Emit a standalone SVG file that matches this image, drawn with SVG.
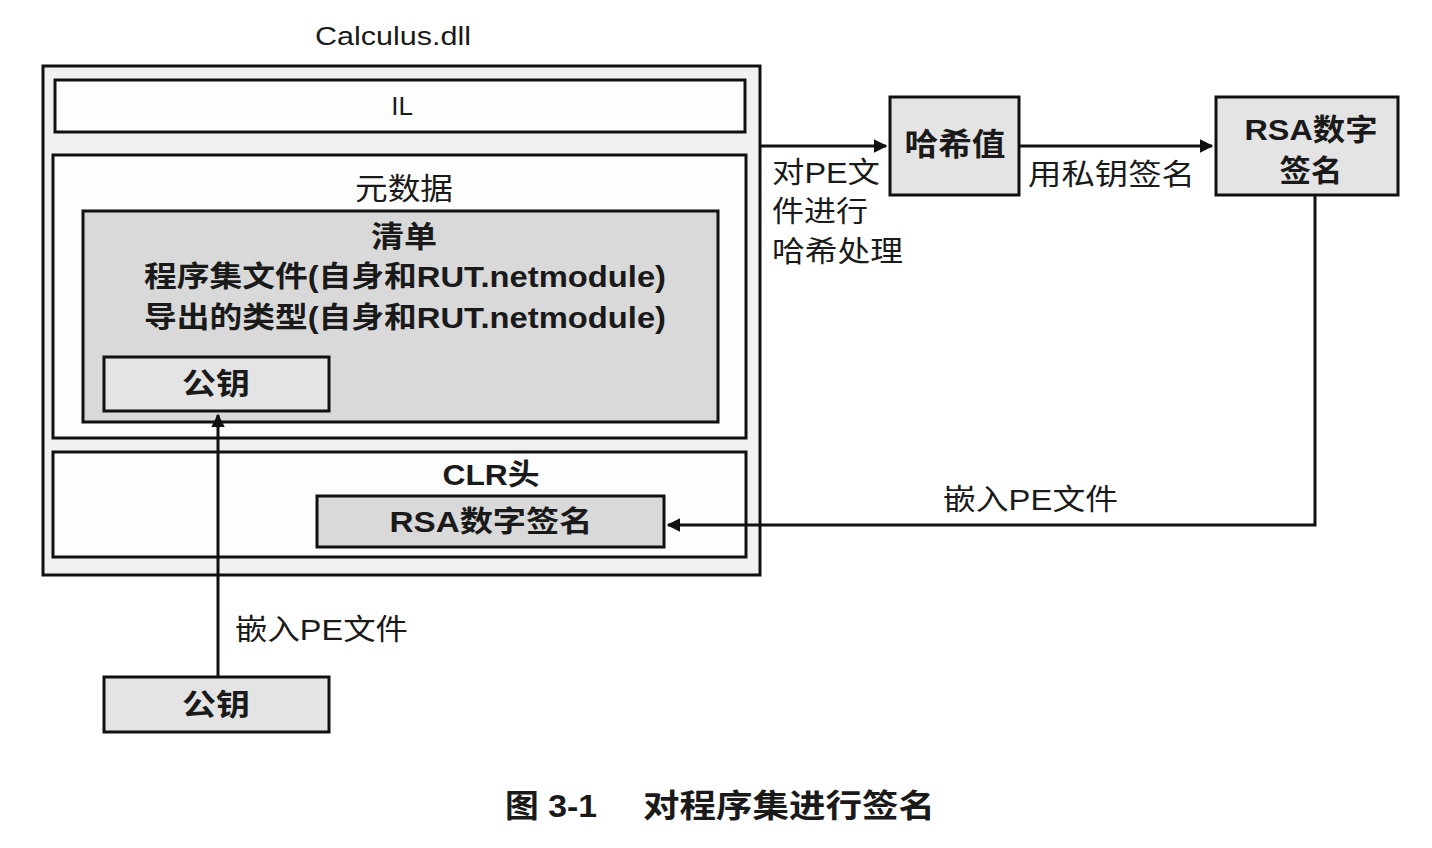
<svg xmlns="http://www.w3.org/2000/svg" width="1432" height="848" viewBox="0 0 1432 848">
<style>
text{font-family:"Liberation Sans","Noto Sans CJK SC",sans-serif;fill:#1a1a1a;}
.box{stroke:#111;stroke-width:3;}
.w{fill:#fdfdfd;}
.g{fill:#e4e4e4;}
.dg{fill:#d9d9d9;}
.c{text-anchor:middle;}
.b{font-weight:bold;}
.conn{fill:none;stroke:#111;stroke-width:3;}
</style>
<defs>
<marker id="ah" viewBox="0 0 10 10" refX="9" refY="5" markerWidth="4.5" markerHeight="4.5" orient="auto">
<path d="M0,0 L10,5 L0,10 z" fill="#111"/>
</marker>
</defs>
<rect width="1432" height="848" fill="#fff"/>
<text x="393" y="45" class="c" font-size="26" textLength="156" lengthAdjust="spacingAndGlyphs">Calculus.dll</text>
<g id="calculus">
<rect x="43" y="66" width="717" height="509" class="box" fill="#f1f1f1"/>
</g>
<g id="il">
<rect x="55" y="80" width="690" height="52" class="box w"/>
<text x="402" y="115" class="c" font-size="26">IL</text>
</g>
<g id="metadata">
<rect x="53" y="155" width="693" height="283" class="box w"/>
<text x="404" y="199" class="c" font-size="30" textLength="98" lengthAdjust="spacingAndGlyphs">元数据</text>
</g>
<g id="manifest">
<rect x="83" y="211" width="635" height="211" class="box dg"/>
<text x="404" y="247" class="c b" font-size="30" textLength="66" lengthAdjust="spacingAndGlyphs">清单</text>
<text x="405" y="287" class="c b" font-size="29" textLength="522" lengthAdjust="spacingAndGlyphs">程序集文件(自身和RUT.netmodule)</text>
<text x="405" y="328" class="c b" font-size="29" textLength="522" lengthAdjust="spacingAndGlyphs">导出的类型(自身和RUT.netmodule)</text>
</g>
<g id="pubkey-inner">
<rect x="104" y="357" width="225" height="54" class="box g"/>
<text x="216" y="394" class="c b" font-size="30" textLength="68" lengthAdjust="spacingAndGlyphs">公钥</text>
</g>
<g id="clr">
<rect x="53" y="452" width="693" height="105" class="box w"/>
<text x="491" y="485" class="c b" font-size="29" textLength="97" lengthAdjust="spacingAndGlyphs">CLR头</text>
</g>
<g id="rsa-inner">
<rect x="317" y="496" width="347" height="51" class="box dg"/>
<text x="491" y="532" class="c b" font-size="29" textLength="203" lengthAdjust="spacingAndGlyphs">RSA数字签名</text>
</g>
<g id="pubkey">
<rect x="104" y="677" width="225" height="55" class="box g"/>
<text x="216" y="715" class="c b" font-size="30" textLength="68" lengthAdjust="spacingAndGlyphs">公钥</text>
</g>
<g id="hash">
<rect x="890" y="97" width="129" height="98" class="box g"/>
<text x="955" y="155" class="c b" font-size="31" textLength="101" lengthAdjust="spacingAndGlyphs">哈希值</text>
</g>
<g id="rsa">
<rect x="1216" y="97" width="182" height="98" class="box g"/>
<text x="1311" y="140" class="c b" font-size="30" textLength="133" lengthAdjust="spacingAndGlyphs">RSA数字</text>
<text x="1311" y="181" class="c b" font-size="30" textLength="63" lengthAdjust="spacingAndGlyphs">签名</text>
</g>
<g id="connectors">
<line x1="760" y1="146" x2="886" y2="146" class="conn" marker-end="url(#ah)"/>
<line x1="1019" y1="146" x2="1212" y2="146" class="conn" marker-end="url(#ah)"/>
<polyline points="1315,195 1315,525 668,525" class="conn" marker-end="url(#ah)"/>
<line x1="218" y1="677" x2="218" y2="415" class="conn" marker-end="url(#ah)"/>
</g>
<g id="labels">
<text x="772" y="183" font-size="29" textLength="108" lengthAdjust="spacingAndGlyphs">对PE文</text>
<text x="772" y="222" font-size="29" textLength="96" lengthAdjust="spacingAndGlyphs">件进行</text>
<text x="772" y="262" font-size="29" textLength="131" lengthAdjust="spacingAndGlyphs">哈希处理</text>
<text x="1028" y="185" font-size="29" textLength="167" lengthAdjust="spacingAndGlyphs">用私钥签名</text>
<text x="943" y="510" font-size="29" textLength="175" lengthAdjust="spacingAndGlyphs">嵌入PE文件</text>
<text x="235" y="640" font-size="29" textLength="173" lengthAdjust="spacingAndGlyphs">嵌入PE文件</text>
</g>
<g id="caption">
<text x="505" y="817" font-size="32" class="b" textLength="92" lengthAdjust="spacingAndGlyphs">图 3-1</text>
<text x="643" y="817" font-size="32" class="b" textLength="292" lengthAdjust="spacingAndGlyphs">对程序集进行签名</text>
</g>
</svg>
